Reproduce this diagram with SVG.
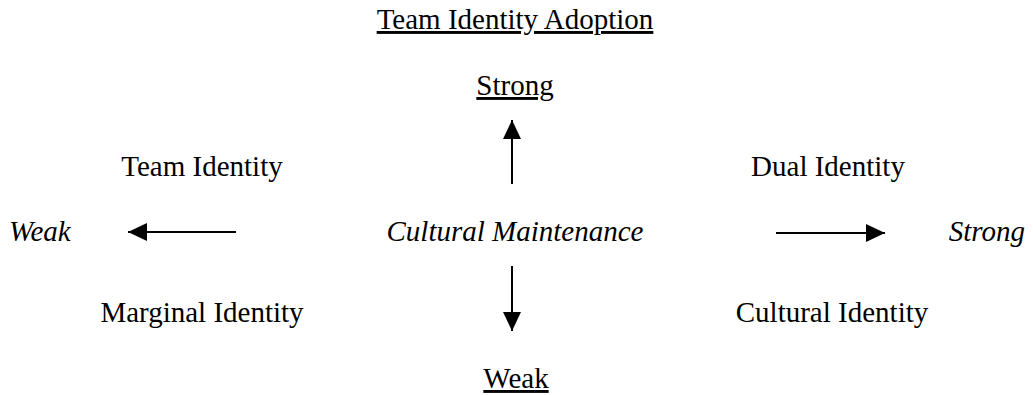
<svg xmlns="http://www.w3.org/2000/svg" width="1033" height="395" viewBox="0 0 1033 395">
<style>
text{font-family:"Liberation Serif","Times New Roman",serif;font-size:29px;fill:#000}
.i{font-style:italic}
.u{text-decoration:underline}
.c{stroke:#000;stroke-width:2;fill:none}
</style>
<defs>
<marker id="ah" markerWidth="19" markerHeight="18" viewBox="0 0 19 18" refX="19" refY="9" orient="auto" markerUnits="userSpaceOnUse">
<path d="M0,0 L19,9 L0,18 Z" fill="#000"/>
</marker>
</defs>
<rect width="1033" height="395" fill="#fff"/>
<g id="title"><text class="u" x="515" y="29" text-anchor="middle">Team Identity Adoption</text></g>
<g id="strong-top"><text class="u" x="515" y="95" text-anchor="middle">Strong</text></g>
<g id="weak-bottom"><text class="u" x="516" y="388" text-anchor="middle">Weak</text></g>
<g id="team-identity"><text x="202" y="176" text-anchor="middle">Team Identity</text></g>
<g id="dual-identity"><text x="828" y="176" text-anchor="middle">Dual Identity</text></g>
<g id="marginal-identity"><text x="202" y="322" text-anchor="middle">Marginal Identity</text></g>
<g id="cultural-identity"><text x="832" y="322" text-anchor="middle">Cultural Identity</text></g>
<g id="cultural-maintenance"><text class="i" x="515" y="241" text-anchor="middle">Cultural Maintenance</text></g>
<g id="weak-left"><text class="i" x="9" y="241">Weak</text></g>
<g id="strong-right"><text class="i" x="1025" y="241" text-anchor="end">Strong</text></g>
<g id="connectors">
<line class="c" x1="512" y1="184" x2="512" y2="120" marker-end="url(#ah)"/>
<line class="c" x1="512" y1="266" x2="512" y2="331" marker-end="url(#ah)"/>
<line class="c" x1="236" y1="232" x2="128" y2="232" marker-end="url(#ah)"/>
<line class="c" x1="776" y1="233" x2="885" y2="233" marker-end="url(#ah)"/>
</g>
</svg>
